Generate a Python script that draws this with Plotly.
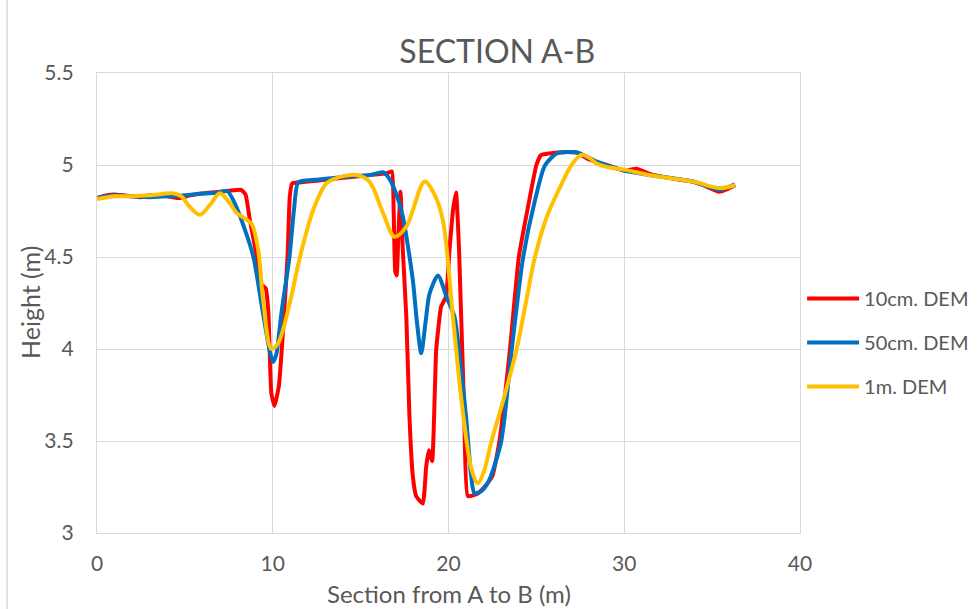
import plotly.graph_objects as go

# Section profile A-B: distance along section (m) and terrain height (m)
x_10cm = [0, 0.5, 1, 2, 2.5, 3, 4, 4.7, 5.3, 6, 6.5, 7, 7.5, 8.2, 8.45, 8.7, 9.1, 9.35, 9.6, 9.75,
          9.92, 10.1, 10.35, 10.6, 10.84, 10.97, 11.1, 11.5, 12, 13, 14, 15, 16, 16.5, 16.78, 16.88,
          16.97, 17.05, 17.15, 17.27, 17.4, 17.6, 17.78, 17.97, 18.16, 18.54, 18.73, 18.88, 19.07,
          19.3, 19.58, 19.86, 20.06, 20.25, 20.43, 20.6, 20.9, 21.1, 21.67, 22.04, 22.5, 22.9, 23.5,
          24.0, 24.5, 25.0, 25.26, 25.74, 26.2, 26.7, 27.3, 28.0, 29.0, 30.0, 30.7, 31.5, 32.5,
          33.9, 34.5, 35.4, 35.9, 36.3]
y_10cm = [4.82, 4.835, 4.84, 4.83, 4.825, 4.835, 4.83, 4.82, 4.835, 4.845, 4.85, 4.855, 4.86, 4.865,
          4.84, 4.70, 4.50, 4.35, 4.33, 4.20, 3.76, 3.69, 3.80, 4.12, 4.50, 4.83, 4.90, 4.905, 4.91,
          4.92, 4.93, 4.94, 4.95, 4.955, 4.965, 4.75, 4.42, 4.40, 4.62, 4.855, 4.54, 4.175, 3.63,
          3.31, 3.20, 3.16, 3.36, 3.45, 3.39, 3.995, 4.23, 4.285, 4.54, 4.75, 4.85, 4.54, 3.63, 3.20,
          3.215, 3.25, 3.31, 3.50, 4.00, 4.50, 4.76, 5.00, 5.054, 5.063, 5.068, 5.07, 5.068, 5.03,
          5.00, 4.97, 4.98, 4.95, 4.93, 4.91, 4.89, 4.855, 4.87, 4.89]

x_50cm = [0, 1, 2, 3, 4, 5, 6, 7, 7.4, 7.8, 8.3, 8.9, 9.4, 9.85, 10.02, 10.2, 10.5, 10.95, 11.2,
          11.44, 11.8, 12.5, 13.5, 14.5, 15.5, 16.3, 16.6, 17.0, 17.4, 17.97, 18.2, 18.45, 18.7,
          18.92, 19.4, 19.9, 20.34, 20.7, 21.0, 21.3, 21.48, 21.9, 22.33, 23.0, 23.6, 24.25, 24.9,
          25.5, 26.2, 26.7, 27.4, 28.4, 30.0, 31.4, 33.9, 35.4, 36.3]
y_50cm = [4.82, 4.835, 4.83, 4.825, 4.83, 4.835, 4.845, 4.85, 4.86, 4.80, 4.68, 4.50, 4.22, 3.98,
          3.93, 3.97, 4.20, 4.50, 4.75, 4.905, 4.915, 4.92, 4.93, 4.94, 4.945, 4.96, 4.93, 4.85,
          4.72, 4.375, 4.15, 3.977, 4.15, 4.30, 4.40, 4.28, 4.175, 3.90, 3.63, 3.30, 3.216, 3.23,
          3.29, 3.50, 4.00, 4.50, 4.80, 5.00, 5.065, 5.07, 5.065, 5.02, 4.97, 4.946, 4.91, 4.866,
          4.895]

x_1m = [0, 1, 2, 3, 4.3, 4.8, 5.3, 5.85, 6.4, 6.99, 7.5, 7.94, 8.4, 8.8, 9.17, 9.45, 9.92, 10.3,
        10.97, 11.5, 12.3, 13.05, 13.5, 14.75, 15.5, 16.27, 16.93, 17.6, 18.64, 19.2, 19.68, 20.25,
        20.8, 21.3, 21.67, 22.0, 22.45, 23.2, 23.88, 24.4, 24.92, 25.6, 26.3, 27.0, 27.55, 28.0,
        28.4, 29.0, 30.0, 31.4, 33.9, 35.4, 36.3]
y_1m = [4.815, 4.83, 4.83, 4.835, 4.846, 4.83, 4.77, 4.73, 4.78, 4.846, 4.80, 4.74, 4.71, 4.68,
        4.54, 4.27, 4.00, 4.03, 4.25, 4.48, 4.755, 4.90, 4.925, 4.946, 4.91, 4.74, 4.61, 4.665,
        4.91, 4.84, 4.70, 4.175, 3.67, 3.35, 3.27, 3.33, 3.50, 3.75, 4.00, 4.25, 4.50, 4.72, 4.87,
        5.00, 5.055, 5.04, 5.01, 4.99, 4.975, 4.946, 4.91, 4.875, 4.89]

series_names = ["10cm. DEM", "50cm. DEM", "1m. DEM"]
series_colors = ["#FF0000", "#0070C0", "#FFC000"]

FONT = "Lato"
TEXT = "#595959"
GRID = "#D9D9D9"

fig = go.Figure()
for i, (xs, ys, smooth) in enumerate([(x_10cm, y_10cm, 0.4), (x_50cm, y_50cm, 0.7), (x_1m, y_1m, 0.9)]):
    fig.add_trace(go.Scatter(
        x=xs, y=ys, mode="lines", name=series_names[i],
        line=dict(color=series_colors[i], width=4, shape="spline", smoothing=smooth),
        legendgroup=f"g{i}",
    ))

fig.update_layout(
    width=979, height=609,
    margin=dict(l=97, r=179, t=73, b=76, autoexpand=False),
    paper_bgcolor="white", plot_bgcolor="white",
    font=dict(family=FONT, color=TEXT),
    title=dict(text="SECTION A-B", font=dict(family=FONT, size=32, color=TEXT),
               xref="container", x=0.508, xanchor="center",
               yref="container", y=1 - 52 / 609, yanchor="middle"),
    showlegend=True,
    legend=dict(x=1.003, xanchor="left", y=0.552, yanchor="top",
                font=dict(family=FONT, size=20, color=TEXT),
                tracegroupgap=15, itemwidth=52, bgcolor="rgba(0,0,0,0)"),
    xaxis=dict(range=[0, 40], dtick=10, tick0=0, showgrid=True, gridcolor=GRID, gridwidth=1.3,
               showline=True, mirror=True, linecolor=GRID, linewidth=1.3, zeroline=False,
               ticks="outside", ticklen=12, tickcolor="rgba(0,0,0,0)",
               tickfont=dict(family=FONT, size=21, color=TEXT)),
    yaxis=dict(range=[3, 5.5], dtick=0.5, tick0=3, showgrid=True, gridcolor=GRID, gridwidth=1.3,
               showline=True, mirror=True, linecolor=GRID, linewidth=1.3, zeroline=False,
               ticks="outside", ticklen=18, tickcolor="rgba(0,0,0,0)",
               tickfont=dict(family=FONT, size=21, color=TEXT)),
    annotations=[
        dict(text="Section from A to B (m)", xref="paper", yref="paper",
             x=0.5, y=(533 - 593) / 460, xanchor="center", yanchor="middle",
             showarrow=False, font=dict(family=FONT, size=24, color=TEXT)),
        dict(text="Height (m)", xref="paper", yref="paper",
             x=(30 - 97) / 703, y=0.5, xanchor="center", yanchor="middle", textangle=-90,
             showarrow=False, font=dict(family=FONT, size=25, color=TEXT)),
    ],
    shapes=[
        dict(type="line", xref="paper", yref="paper",
             x0=(7 - 97) / 703, x1=(7 - 97) / 703, y0=(533 - 620) / 460, y1=(533 + 10) / 460,
             line=dict(color=GRID, width=1.5)),
    ],
)

fig.write_html("out.html")
